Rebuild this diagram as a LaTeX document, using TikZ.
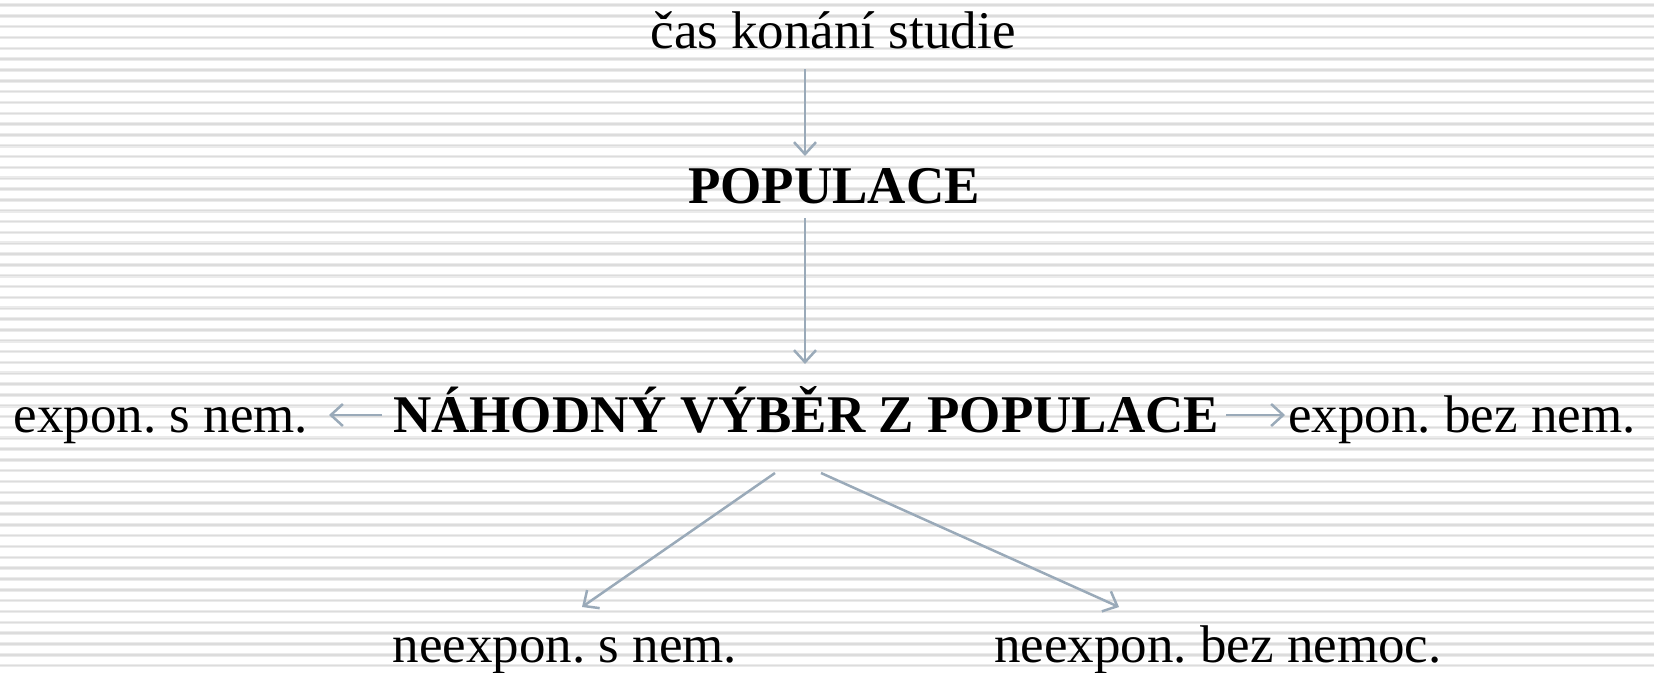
\documentclass[tikz,border=0pt]{standalone}
\usepackage{fontspec}
\setmainfont{Liberation Serif}
\usetikzlibrary{arrows.meta}
\definecolor{arrowc}{HTML}{9AAAB9}
\definecolor{stripeA}{HTML}{EBEBEB}
\definecolor{stripeB}{HTML}{DCDCDC}
\frenchspacing
\begin{document}
\begin{tikzpicture}[x=1pt,y=-1pt,
  lbl/.style={inner sep=0pt,anchor=base,font=\fontsize{53}{60}\selectfont},
  blbl/.style={lbl,font=\fontsize{53}{60}\selectfont\bfseries},
  conn/.style={draw=arrowc,line width=2.5pt,-{Straight Barb[length=12pt,width=22pt,line width=2.5pt]}}]
\useasboundingbox (0,0) rectangle (1654,672);
\fill[white] (0,0) rectangle (1654,672);
\foreach \i in {0,...,62}{
  \draw[stripeA,line width=3.6pt] (0,5+10.83*\i) -- (1654,5+10.83*\i);
  \draw[stripeB,line width=1.4pt] (0,5+10.83*\i) -- (1654,5+10.83*\i);
}
\node[lbl] (cas) at (833,48) {čas konání studie};
\node[blbl] (pop) at (834,203) {POPULACE};
\node[blbl] (vyb) at (806,432) {NÁHODNÝ VÝBĚR Z POPULACE};
\node[lbl] (esn) at (161,432) {expon. s nem.};
\node[lbl] (ebn) at (1462,432) {expon. bez nem.};
\node[lbl] (nsn) at (565,662) {neexpon. s nem.};
\node[lbl] (nbn) at (1218,662) {neexpon. bez nemoc.};
\coordinate (a1s) at (805,69);
\coordinate (a1e) at (805,156);
\coordinate (a2s) at (805,218);
\coordinate (a2e) at (805,364);
\coordinate (als) at (382,415);
\coordinate (ale) at (329,415);
\coordinate (ars) at (1226,415);
\coordinate (are) at (1285,415);
\coordinate (dls) at (775,473);
\coordinate (dle) at (582,607);
\coordinate (drs) at (821,473);
\coordinate (dre) at (1119,607);
\draw[conn] (a1s) -- (a1e);
\draw[conn] (a2s) -- (a2e);
\draw[conn] (als) -- (ale);
\draw[conn] (ars) -- (are);
\draw[conn] (dls) -- (dle);
\draw[conn] (drs) -- (dre);
\end{tikzpicture}
\end{document}
